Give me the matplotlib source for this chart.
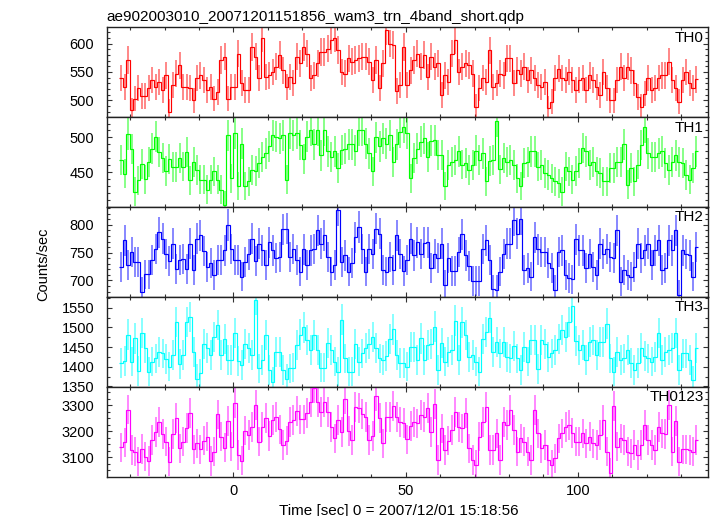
import numpy as np
import matplotlib
matplotlib.use("Agg")
import matplotlib.pyplot as plt
from matplotlib.ticker import MultipleLocator, FixedLocator

plt.rcParams['font.family'] = ['Liberation Sans', 'DejaVu Sans']

# ---------------- data ----------------
title = "ae902003010_20071201151856_wam3_trn_4band_short.qdp"
xlabel = "Time [sec] 0 = 2007/12/01 15:18:56"
ylabel = "Counts/sec"
band_names = ["TH0", "TH1", "TH2", "TH3", "TH0123"]
band_colors = ["#ff0000", "#00ff00", "#0000ff", "#00ffff", "#ff00ff"]
bin_start = -32.6   # centre of first 1-s bin [s]
bin_width = 1.0     # s

th0 = [539, 524, 571, 483, 503, 521, 508, 508, 521, 536,
       524, 533, 518, 544, 480, 527, 547, 562, 524, 524,
       521, 500, 539, 544, 536, 518, 524, 503, 515, 571,
       577, 503, 524, 524, 582, 530, 518, 518, 594, 577,
       539, 609, 541, 544, 550, 559, 580, 553, 524, 541,
       530, 577, 565, 594, 582, 539, 544, 565, 585, 585,
       591, 606, 609, 589, 550, 547, 574, 568, 571, 574,
       577, 577, 568, 536, 571, 521, 565, 623, 600, 597,
       516, 527, 594, 527, 553,
       571, 582, 559, 580, 541, 577, 559, 565, 509, 544,
       533, 582, 606, 550, 559, 565, 562, 547, 489, 521,
       539, 533, 588, 524, 530, 547, 544, 574, 574, 531,
       553, 547, 559, 536, 553, 539, 527, 524, 533, 486,
       498, 539, 556, 539, 536, 550, 536, 518, 536, 539,
       518, 544, 536, 524, 509, 550, 521, 500, 500, 536,
       559, 539, 559, 553, 530, 506, 489, 512, 539, 518,
       521, 539, 544, 544, 568, 536, 521, 498, 536, 550,
       530, 521, 537]

th1 = [468, 448, 505, 483, 422, 438, 462, 440, 465, 484,
       501, 479, 470, 452, 469, 457, 457, 470, 458, 479,
       438, 464, 453, 439, 439, 425, 439, 451, 439, 425,
       403, 503, 441, 506, 430, 491, 430, 437, 453, 452,
       463, 472, 477, 487, 503, 501, 499, 503, 439, 506,
       503, 506, 489, 469, 501, 510, 490, 510, 474, 510,
       480, 472, 480, 456, 482, 484, 490, 490, 481, 510,
       510, 491, 477, 451, 500, 487, 499, 491, 503, 464,
       490, 508, 515, 506, 441,
       470, 484, 494, 499, 472, 495, 496, 475, 475, 430,
       460, 465, 467, 480, 461, 463, 453, 460, 481, 467,
       477, 437, 466, 467, 523, 454, 470, 464, 467, 460,
       441, 430, 463, 465, 480, 480, 458, 460, 449, 446,
       441, 437, 434, 422, 458, 451, 439, 452, 463, 485,
       480, 460, 465, 451, 449, 437, 437, 456, 456, 465,
       465, 490, 432, 456, 437, 461, 489, 515, 477, 472,
       472, 477, 480, 463, 453, 465, 474, 465, 463, 446,
       439, 456, 480]

th2 = [725, 772, 728, 751, 734, 734, 680, 711, 711, 737,
       757, 787, 775, 748, 735, 766, 720, 737, 738, 720,
       766, 719, 775, 781, 753, 725, 732, 710, 737, 737,
       754, 800, 757, 737, 737, 707, 734, 747, 775, 735,
       766, 754, 728, 769, 754, 740, 742, 792, 793, 742,
       757, 737, 716, 756, 728, 754, 757, 790, 766, 781,
       742, 716, 728, 826, 734, 745, 716, 731, 778, 796,
       757, 716, 757, 748, 793, 784, 719, 716, 742, 719,
       781, 748, 717, 737, 775,
       745, 769, 748, 768, 769, 722, 748, 740, 766, 692,
       741, 717, 717, 751, 783, 745, 726, 699, 699, 699,
       757, 772, 737, 684, 683, 716, 748, 766, 766, 808,
       784, 810, 719, 722, 707, 778, 756, 751, 751, 731,
       722, 683, 751, 754, 710, 704, 702, 774, 754, 754,
       722, 748, 725, 710, 766, 748, 757, 742, 740, 790,
       698, 719, 710, 707, 725, 766, 740, 754, 766, 728,
       754, 772, 719, 722, 772, 754, 790, 674, 754, 748,
       745, 707, 760]

th3 = [1410, 1414, 1482, 1413, 1472, 1389, 1485, 1447, 1387, 1413,
       1421, 1438, 1434, 1419, 1400, 1430, 1514, 1407, 1430, 1514,
       1527, 1438, 1370, 1383, 1458, 1447, 1430, 1475, 1506, 1430,
       1470, 1417, 1417, 1486, 1415, 1404, 1459, 1447, 1430, 1571,
       1396, 1417, 1481, 1392, 1362, 1438, 1438, 1392, 1370, 1396,
       1398, 1455, 1482, 1500, 1468, 1442, 1481, 1442, 1398, 1398,
       1461, 1442, 1413, 1387, 1520, 1421, 1387, 1387, 1457, 1413,
       1434, 1448, 1459, 1476, 1447, 1421, 1417, 1427, 1470, 1495,
       1430, 1410, 1410, 1400, 1451,
       1451, 1417, 1472, 1417, 1455, 1459, 1502, 1392, 1461, 1413,
       1438, 1442, 1517, 1417, 1513, 1481, 1425, 1430, 1413, 1387,
       1470, 1489, 1525, 1438, 1462, 1434, 1462, 1425, 1421, 1453,
       1421, 1392, 1451, 1413, 1468, 1468, 1394, 1468, 1459, 1425,
       1434, 1442, 1470, 1493, 1476, 1514, 1554, 1466, 1442, 1455,
       1417, 1464, 1468, 1430, 1464, 1464, 1510, 1421, 1387, 1438,
       1417, 1421, 1442, 1409, 1392, 1409, 1447, 1427, 1421, 1413,
       1425, 1485, 1417, 1438, 1442, 1447, 1486, 1392, 1434, 1434,
       1417, 1366, 1447]

th0123 = [3138, 3157, 3283, 3128, 3122, 3083, 3132, 3103, 3086, 3166,
          3198, 3236, 3189, 3160, 3083, 3189, 3252, 3134, 3160, 3213,
          3271, 3131, 3153, 3131, 3164, 3179, 3086, 3122, 3264, 3179,
          3137, 3240, 3141, 3309, 3109, 3087, 3202, 3185, 3217, 3300,
          3160, 3217, 3249, 3182, 3243, 3253, 3207, 3147, 3164, 3236,
          3243, 3278, 3245, 3245, 3268, 3313, 3364, 3313, 3275, 3313,
          3275, 3217, 3173, 3243, 3198, 3322, 3201, 3166, 3291, 3287,
          3266, 3253, 3166, 3182, 3334, 3249, 3153, 3255, 3255, 3296,
          3255, 3236, 3232, 3169, 3221,
          3236, 3230, 3262, 3255, 3287, 3198, 3304, 3090, 3211, 3128,
          3164, 3204, 3275, 3217, 3211, 3271, 3134, 3090, 3071, 3179,
          3236, 3291, 3128, 3128, 3192, 3090, 3236, 3224, 3281, 3204,
          3122, 3173, 3160, 3122, 3090, 3281, 3192, 3134, 3147, 3090,
          3071, 3096, 3173, 3192, 3217, 3224, 3194, 3160, 3160, 3192,
          3153, 3179, 3153, 3147, 3185, 3243, 3122, 3041, 3296, 3141,
          3173, 3166, 3122, 3115, 3147, 3109, 3147, 3224, 3166, 3147,
          3128, 3217, 3192, 3189, 3300, 3122, 3240, 3083, 3131, 3131,
          3128, 3122, 3166]

series = [th0, th1, th2, th3, th0123]

ylims = [(471, 629), (400, 529.5), (670.5, 832.5), (1349, 1578), (3026, 3370)]
yticks = [[500, 550, 600], [450, 500], [700, 750, 800],
          [1350, 1400, 1450, 1500, 1550], [3100, 3200, 3300]]
yminor = [10, 10, 10, 25, 25]
xticks = [0, 50, 100]
xminor = 10
xlim = (-36.8, 137.9)

# ---------------- layout ----------------
W, H = 717, 516
fig = plt.figure(figsize=(W / 100, H / 100), dpi=100)
left_px, right_px = 106.7, 708.5
top_px, bottom_px = 27.0, 476.7
npan = len(series)
ph = (bottom_px - top_px) / npan

axes = []
for i in range(npan):
    y0 = 1 - (top_px + ph * (i + 1)) / H
    ax = fig.add_axes([left_px / W, y0, (right_px - left_px) / W, ph / H])
    axes.append(ax)

for i, ax in enumerate(axes):
    v = np.asarray(series[i], dtype=float)
    n = len(v)
    t = bin_start + bin_width * np.arange(n)
    edges = np.append(t - bin_width / 2, t[-1] + bin_width / 2)
    err = np.sqrt(v * bin_width) / bin_width
    c = band_colors[i]
    ax.errorbar(t, v, yerr=err, fmt='none', ecolor=c, elinewidth=1.2,
                capsize=0, alpha=0.55, zorder=2)
    ax.stairs(v, edges, baseline=None, color=c, lw=0.85, zorder=3)

    ax.set_xlim(*xlim)
    ax.set_ylim(*ylims[i])
    ax.xaxis.set_major_locator(FixedLocator(xticks))
    ax.xaxis.set_minor_locator(MultipleLocator(xminor))
    ax.yaxis.set_major_locator(FixedLocator(yticks[i]))
    ax.yaxis.set_minor_locator(MultipleLocator(yminor[i]))
    ax.tick_params(which='both', direction='in', top=True, right=True,
                   width=0.8, color='#333333')
    ax.tick_params(which='major', length=3.5)
    ax.tick_params(which='minor', length=2.0)
    ax.tick_params(axis='y', labelsize=10.5, pad=9)
    ax.tick_params(axis='x', labelsize=10.5, pad=5.5)
    if i < npan - 1:
        ax.tick_params(axis='x', labelbottom=False)
    for s in ax.spines.values():
        s.set_linewidth(1.0)
        s.set_color('#222222')
    ax.text(0.9925, 0.96, band_names[i], transform=ax.transAxes,
            ha='right', va='top', fontsize=11)

fig.text(left_px / W, 1 - 20.7 / H, title, ha='left', va='baseline',
         fontsize=11)
fig.text(399 / W, 1 - 514.5 / H, xlabel, ha='center', va='baseline',
         fontsize=11)
fig.text(43 / W, 1 - 264 / H, ylabel, rotation=90, ha='center',
         va='center', fontsize=10.5)

fig.savefig("out.png", dpi=100)
